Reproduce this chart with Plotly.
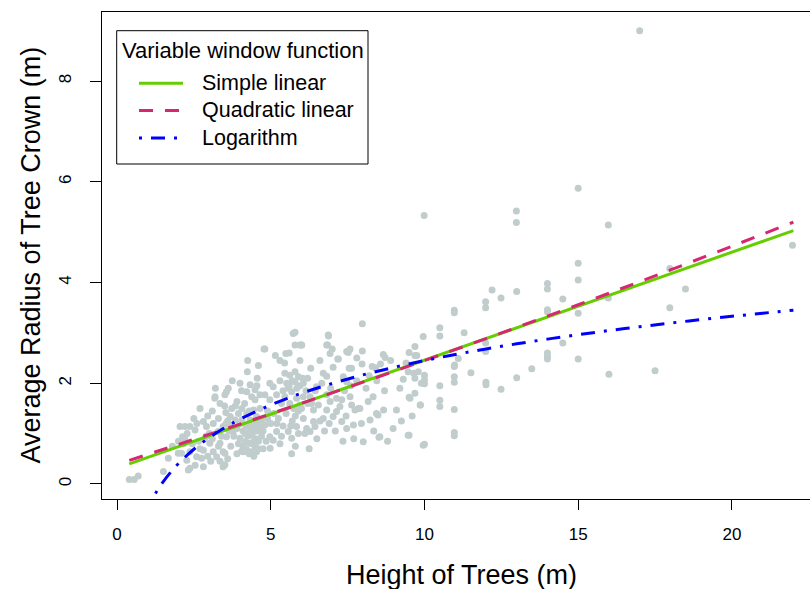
import plotly.graph_objects as go

# ---------------- data ----------------
height = [
    0.40, 0.56, 0.69, 1.51, 1.67, 1.99, 2.05, 2.21, 2.37, 2.28, 2.13, 2.32, 2.10, 1.80, 2.16,
    2.70, 3.19, 3.54, 3.51, 3.51, 2.75, 4.11, 4.27, 4.40, 4.45, 4.78, 4.98, 5.68, 5.00, 5.73,
    5.95, 6.00, 6.87, 6.85, 6.93, 7.47, 7.18,
    7.98, 5.79, 6.88, 5.79, 6.01, 6.82, 7.00, 4.81, 7.58, 7.52, 5.49, 7.98, 8.66, 8.72, 9.50,
    9.69, 9.96, 9.75, 7.20, 5.30, 4.60, 7.97, 8.30, 8.41, 8.57, 7.63, 7.03, 4.24, 4.56, 4.97,
    5.46, 5.62, 5.79, 5.90, 5.79, 6.04, 6.06, 5.52, 6.71, 6.82, 6.66, 6.49, 7.36, 7.47, 9.47,
    9.80, 9.31, 9.69,
    4.00, 3.62, 3.51, 4.33, 4.49, 4.22, 4.38, 4.49, 4.65, 4.81, 4.97, 5.08, 5.19,
    5.57, 5.68, 5.46, 5.35, 5.62, 5.84, 6.06, 5.95,
    6.28, 6.33, 6.39, 6.55, 6.82, 6.93, 7.14, 7.31, 7.58, 7.63, 7.74, 7.90, 7.25, 7.14, 6.82,
    8.17, 8.33, 8.49, 8.67, 9.09, 9.53, 9.86,
    2.54, 2.81, 2.91, 3.18, 3.35, 3.56, 3.73, 3.68,
    3.90, 4.06, 3.95, 3.84, 4.06, 4.22, 4.33, 4.44,
    4.54, 4.70, 4.81, 4.49, 4.33, 4.17, 4.00, 4.17, 4.33, 4.49, 4.38, 4.54,
    3.13, 3.29, 3.45, 3.56, 3.78, 3.35, 3.02, 2.81, 3.13, 3.45, 3.24,
    2.37, 2.59, 2.27, 2.54, 2.81, 3.45, 2.37,
    4.97, 5.08, 5.19,
    5.57, 5.68, 5.84, 6.11, 6.17, 6.28, 6.44, 6.39, 6.06,
    6.71, 7.03, 7.31, 7.47, 7.69, 7.85,
    8.01, 8.23, 8.44, 8.55, 8.98, 9.47, 9.96,
    4.40, 4.55, 4.70, 4.30, 8.52,
    3.90, 4.00, 4.10, 4.20, 4.25, 4.35, 4.45, 4.60, 4.65, 4.75, 4.10, 4.20, 4.30, 4.45, 4.50,
    4.60, 3.70, 3.80, 3.95, 3.60, 3.70, 4.05, 4.60, 5.80, 5.90, 6.00, 5.70, 5.85, 5.95, 5.70,
    5.60, 5.40, 5.30, 6.15, 6.20, 5.75, 3.00, 2.90, 3.10, 3.30, 2.65, 2.95, 3.35, 5.10, 5.25,
    5.40, 6.60, 6.90, 7.60, 7.80, 8.10, 7.40,
    2.20, 2.45, 2.60, 2.85, 2.50, 2.95, 2.00, 2.70,
    3.10, 3.30, 3.50, 3.65, 3.85, 3.40, 3.60, 3.20, 3.75, 3.90, 3.05, 3.55,
    4.15, 4.30, 4.65, 4.90, 4.85, 4.75, 4.90, 4.55, 4.25, 4.05,
    5.20, 5.35, 5.50, 5.65, 5.90, 5.45, 5.15, 5.60, 5.95, 5.30, 5.80,
    6.20, 6.45, 6.60, 6.30, 6.50, 6.75, 6.95, 6.25,
    7.10, 7.35, 7.55, 7.80, 7.45, 7.70, 7.95,
    8.20, 8.45, 8.70, 8.90, 8.35, 8.80,
    9.20, 9.40, 9.25, 9.60, 9.90,
    15.00, 9.99, 12.99, 12.99, 15.00, 15.00, 14.00, 14.00, 12.20, 13.00, 12.49, 14.50, 11.99,
    11.99, 10.97, 10.97, 14.00, 14.00, 15.00, 10.50, 10.50, 11.29, 9.69, 11.99, 11.99, 14.50,
    15.00, 14.00, 14.00, 14.00, 10.98, 11.10, 11.51, 12.00, 12.00, 12.49, 13.00, 13.49, 10.97,
    10.97, 10.97, 10.50, 10.50, 10.50, 10.00, 10.00, 10.00, 9.69, 9.50, 9.87, 10.97, 9.50,
    10.00, 10.97, 10.97, 9.65,
    17.00, 15.98, 21.97, 17.98, 18.49, 15.98, 17.98, 16.00, 17.50,
]
radius = [
    0.09, 0.09, 0.16, 0.25, 0.51, 0.61, 1.14, 1.14, 1.14, 1.00, 0.94, 0.28, 0.61, 0.75, 0.80,
    1.50, 1.73, 1.42, 0.61, 0.38, 0.51, 0.64, 0.64, 0.80, 0.85, 2.68, 0.71, 0.60, 1.20, 2.99,
    2.76, 2.76, 2.96, 2.76, 2.59, 2.63, 2.48,
    3.18, 3.01, 2.94, 2.76, 2.76, 2.76, 2.68, 2.68, 2.68, 2.61, 2.59, 2.64, 2.57, 2.51, 2.61,
    2.73, 2.93, 2.55, 2.48, 2.45, 2.35, 2.38, 2.33, 2.31, 2.38, 2.30, 2.32, 2.23, 2.10, 2.00,
    2.20, 2.16, 2.23, 2.13, 2.03, 2.10, 2.00, 2.00, 2.20, 2.14, 2.00, 1.93, 2.13, 2.03, 2.23,
    2.23, 2.08, 2.10,
    2.00, 1.90, 1.77, 1.97, 1.87, 1.83, 1.73, 1.67, 1.77, 1.77, 1.67, 1.93, 1.77,
    1.90, 1.83, 1.73, 1.60, 1.60, 1.70, 1.73, 1.57,
    1.73, 1.60, 1.47, 1.57, 1.77, 1.64, 1.70, 1.67, 1.73, 1.57, 1.47, 1.50, 1.54, 1.44, 1.47,
    1.64, 1.73, 1.37, 1.47, 1.47, 1.70, 1.57,
    1.07, 1.24, 1.14, 1.70, 1.60, 1.83, 1.50, 1.34,
    1.64, 1.50, 1.40, 1.27, 1.27, 1.40, 1.27, 1.47,
    1.34, 1.27, 1.17, 1.14, 1.07, 1.00, 0.91, 0.84, 0.81, 0.74, 0.64, 0.64,
    1.20, 1.04, 1.14, 0.94, 1.04, 0.81, 0.81, 0.67, 0.64, 0.64, 0.54,
    0.64, 0.54, 0.47, 0.37, 0.34, 0.34, 0.31,
    0.94, 0.87, 1.04,
    1.04, 0.91, 1.14, 1.00, 1.10, 1.04, 1.14, 1.24, 1.30,
    1.30, 1.34, 1.24, 1.10, 1.17, 1.50,
    0.84, 1.27, 1.40, 0.94, 1.10, 0.97, 0.77,
    1.00, 1.05, 0.95, 0.97, 0.93,
    1.10, 1.20, 1.05, 1.15, 0.95, 1.20, 1.25, 1.20, 1.10, 1.05, 0.75, 0.70, 0.60, 0.55, 0.90,
    0.85, 1.15, 0.95, 0.80, 1.25, 0.75, 0.65, 0.70, 1.35, 1.45, 1.50, 1.25, 1.90, 1.95, 2.05,
    1.95, 1.85, 2.05, 1.85, 2.10, 1.50, 1.00, 0.95, 0.90, 0.75, 0.85, 0.55, 0.45, 1.40, 1.30,
    1.15, 1.25, 1.20, 1.95, 2.05, 1.90, 1.85,
    0.90, 0.80, 1.20, 0.90, 1.30, 1.35, 0.85, 0.70,
    1.45, 1.30, 1.55, 1.05, 1.55, 0.95, 0.50, 1.90, 2.05, 0.60, 0.45, 1.20,
    1.60, 1.45, 1.50, 1.45, 0.85, 0.70, 1.30, 1.95, 2.45, 1.85,
    1.20, 0.95, 1.40, 1.15, 1.00, 2.40, 2.55, 2.60, 2.45, 0.80, 0.75,
    1.60, 1.85, 2.45, 2.30, 0.90, 1.05, 1.90, 0.70,
    1.05, 0.85, 2.30, 2.50, 1.35, 0.90, 1.20,
    2.15, 2.05, 1.85, 2.45, 1.05, 0.85,
    1.90, 2.40, 1.25, 1.35, 2.00,
    5.87, 5.33, 5.42, 5.19, 4.38, 4.05, 3.98, 3.87, 3.85, 3.82, 3.69, 3.67, 3.62,
    3.50, 3.45, 3.40, 3.46, 3.42, 3.39, 3.10, 2.94, 3.00, 2.55, 2.80, 2.63, 2.80,
    2.48, 2.60, 2.53, 2.48, 2.36, 2.49, 2.21, 2.02, 1.97, 1.88, 2.11, 2.29, 2.33,
    2.13, 2.02, 1.95, 1.66, 1.54, 2.16, 2.07, 1.99, 1.80, 1.72, 1.57, 1.48, 0.97,
    0.79, 1.02, 0.96, 2.20,
    9.00, 5.14, 4.74, 4.28, 3.87, 3.69, 3.50, 2.18, 2.25,
]

# fitted curves, read at several heights
lin_x = [0.4, 5, 10, 15, 22]
lin_y = [0.40, 1.386, 2.458, 3.530, 5.031]

quad_x = [0.4, 2, 4, 6, 8, 10, 12, 14, 16, 18, 20, 22]
quad_y = [0.470, 0.786, 1.189, 1.601, 2.021, 2.450, 2.887, 3.332, 3.787, 4.249, 4.720, 5.199]

log_x = [1.25, 1.3, 1.4, 1.5, 1.75, 2, 2.5, 3, 3.5, 4, 5, 6, 7, 8, 9, 10, 11, 12, 13,
         14, 15, 16, 17, 18, 19, 20, 21, 22]
log_y = [-0.190, -0.140, -0.046, 0.042, 0.237, 0.407, 0.690, 0.921, 1.117, 1.286, 1.569,
         1.801, 1.996, 2.166, 2.315, 2.449, 2.570, 2.680, 2.782, 2.876, 2.964, 3.046,
         3.122, 3.195, 3.263, 3.329, 3.390, 3.450]

x_ticks = [0, 5, 10, 15, 20]
y_ticks = [0, 2, 4, 6, 8]

series_names = ["Simple linear", "Quadratic linear", "Logarithm"]
legend_title = "Variable window function"
x_title = "Height of Trees (m)"
y_title = "Average Radius of Tree Crown (m)"

# ---------------- styling ----------------
FONT = "Liberation Sans, Arial, sans-serif"
GREEN = "#66CD00"
MAGENTA = "#D62872"
BLUE = "#0000FF"
POINT = "#C1CDCD"
DASH_Q = "14px,12px"
DASH_L = "3px,9px,14px,9px"

W, H = 810, 589
ML, MR, MT, MB = 102, 0, 12, 90
PW, PH = W - ML - MR, H - MT - MB


def px(xp):
    return (xp - ML) / PW


def py(yp):
    return (H - MB - yp) / PH


fig = go.Figure()
fig.add_trace(go.Scatter(x=height, y=radius, mode="markers",
                         marker=dict(color=POINT, size=7, line=dict(width=0)),
                         showlegend=False, hoverinfo="skip"))
fig.add_trace(go.Scatter(x=lin_x, y=lin_y, mode="lines", name=series_names[0],
                         line=dict(color=GREEN, width=3), showlegend=False))
fig.add_trace(go.Scatter(x=quad_x, y=quad_y, mode="lines", name=series_names[1],
                         line=dict(color=MAGENTA, width=3, dash=DASH_Q, shape="spline"),
                         showlegend=False))
fig.add_trace(go.Scatter(x=log_x, y=log_y, mode="lines", name=series_names[2],
                         line=dict(color=BLUE, width=3, dash=DASH_L, shape="spline"),
                         showlegend=False))

shapes = [
    # legend box
    dict(type="rect", xref="paper", yref="paper", x0=px(116.7), x1=px(368), y0=py(30.7), y1=py(164),
         line=dict(color="black", width=1), fillcolor="white", layer="above"),
]
annotations = [
    dict(text=legend_title, xref="paper", yref="paper", x=px(120), y=py(50.7),
         xanchor="left", yanchor="middle", showarrow=False, font=dict(family=FONT, size=22, color="black")),
    dict(text=x_title, xref="paper", yref="paper", x=px(461), y=py(575),
         xanchor="center", yanchor="middle", showarrow=False, font=dict(family=FONT, size=27, color="black")),
    dict(text=y_title, xref="paper", yref="paper", x=px(30), y=py(255.5), textangle=-90,
         xanchor="center", yanchor="middle", showarrow=False, font=dict(family=FONT, size=27, color="black")),
]
legend_styles = [(GREEN, "solid"), (MAGENTA, DASH_Q), (BLUE, DASH_L)]
legend_rows = [83.3, 110.5, 138]
for (col, dash), name, yrow in zip(legend_styles, series_names, legend_rows):
    shapes.append(dict(type="line", xref="paper", yref="paper", x0=px(139), x1=px(183),
                       y0=py(yrow), y1=py(yrow), line=dict(color=col, width=3, dash=dash), layer="above"))
    annotations.append(dict(text=name, xref="paper", yref="paper", x=px(199.5), y=py(yrow),
                            xanchor="left", yanchor="middle", showarrow=False,
                            font=dict(family=FONT, size=21.5, color="black")))

fig.update_layout(
    width=W, height=H,
    margin=dict(l=ML, r=MR, t=MT, b=MB, pad=0),
    paper_bgcolor="white", plot_bgcolor="white",
    font=dict(family=FONT, color="black"),
    shapes=shapes, annotations=annotations,
    showlegend=False,
    xaxis=dict(range=[-0.488, 22.54], tickvals=x_ticks, ticktext=[str(v) for v in x_ticks],
               ticks="outside", ticklen=10, tickwidth=1, tickcolor="black",
               showline=True, linecolor="black", linewidth=1, mirror=True,
               showgrid=False, zeroline=False, tickfont=dict(family=FONT, size=17, color="black"),
               ticklabelstandoff=10),
    yaxis=dict(range=[-0.298, 9.37], tickvals=y_ticks, ticktext=[str(v) for v in y_ticks],
               ticks="outside", ticklen=11, tickwidth=1, tickcolor="black", tickangle=-90,
               showline=True, linecolor="black", linewidth=1, mirror=False,
               showgrid=False, zeroline=False, tickfont=dict(family=FONT, size=17, color="black"),
               ticklabelstandoff=12),
)

fig.write_html("out.html")
